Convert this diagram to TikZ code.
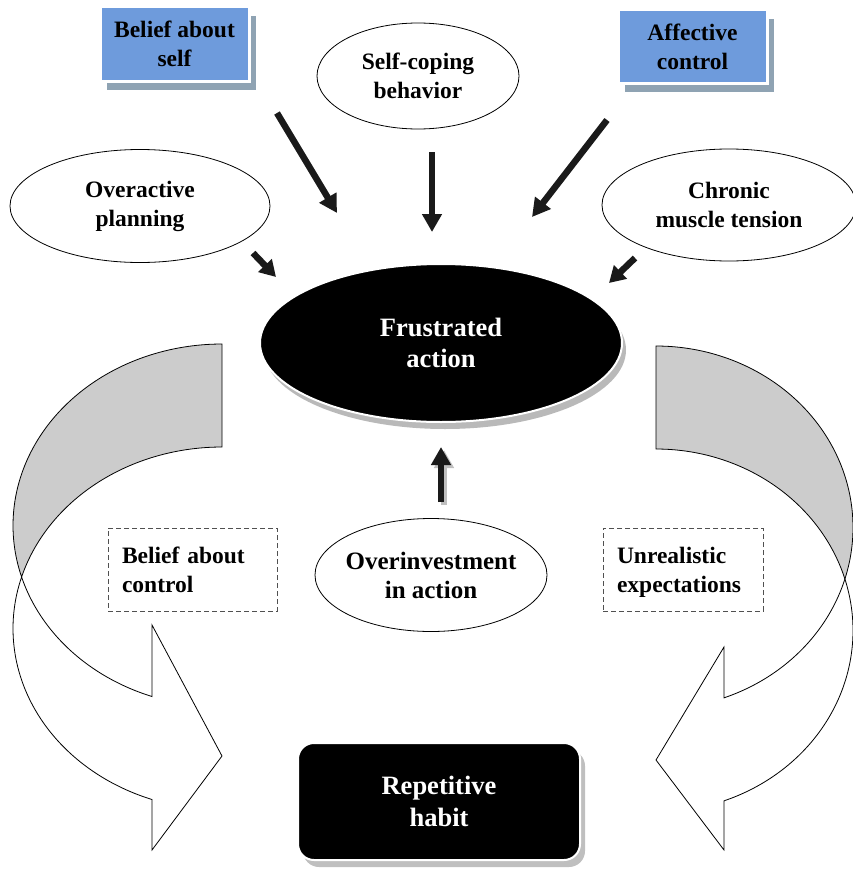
\documentclass[tikz,border=0pt]{standalone}
\usepackage{fontspec}
\setmainfont{Liberation Serif}
\usetikzlibrary{shapes.geometric,shadows,arrows.meta}
\definecolor{boxblue}{RGB}{110,155,220}
\definecolor{boxshadow}{RGB}{143,163,179}
\definecolor{bandgray}{RGB}{204,204,204}
\definecolor{arrowblack}{RGB}{26,26,26}
\definecolor{dashgray}{RGB}{80,80,80}
\begin{document}
\begin{tikzpicture}[x=1pt,y=-1pt,
  txt/.style={font=\fontsize{23.5}{29}\selectfont\bfseries, align=center},
  bigtxt/.style={font=\fontsize{26.5}{31.5}\selectfont\bfseries, align=center, text=white},
  oval/.style={ellipse, draw=black, line width=0.8pt, fill=white, inner sep=0pt, txt},
  bluebox/.style={rectangle, fill=boxblue, draw=white, line width=3pt, inner sep=0pt, txt,
    drop shadow={shadow xshift=7pt, shadow yshift=-9pt, fill=boxshadow, opacity=1}},
  dashbox/.style={rectangle, draw=dashgray, line width=0.9pt, dash pattern=on 5pt off 3pt,
    inner ysep=0pt, inner xsep=14pt, txt, align=left},
  thickarrow/.style={draw=arrowblack, line width=6.5pt, -{Triangle[length=18pt,width=19pt]}},
  smallarrow/.style={draw=arrowblack, line width=6.5pt, -{Triangle[length=16pt,width=18pt]}},
  band/.style={draw=black, line width=0.8pt}
]
\useasboundingbox (0,0) rectangle (853,883);

% left curved arrow
\filldraw[band, fill=bandgray]
  plot[domain=270:163.52,samples=80] ({222+209*cos(\x)},{525.5+181.5*sin(\x)})
  -- plot[domain=196.48:270,samples=60] ({222+209*cos(\x)},{628.5+181.5*sin(\x)}) -- cycle;
\filldraw[band, fill=white]
  plot[domain=163.52:109.57,samples=60] ({222+209*cos(\x)},{525.5+181.5*sin(\x)})
  -- (152,625) -- (222,756) -- (152,850)
  -- plot[domain=109.57:196.48,samples=80] ({222+209*cos(\x)},{628.5+181.5*sin(\x)}) -- cycle;

% right curved arrow
\filldraw[band, fill=bandgray]
  plot[domain=270:376.48,samples=80] ({656+197*cos(\x)},{527.5+181.5*sin(\x)})
  -- plot[domain=343.52:270,samples=60] ({656+197*cos(\x)},{630.5+181.5*sin(\x)}) -- cycle;
\filldraw[band, fill=white]
  plot[domain=16.48:69.81,samples=60] ({656+197*cos(\x)},{527.5+181.5*sin(\x)})
  -- (724,647) -- (656,760) -- (724,850)
  -- plot[domain=69.81:-16.48,samples=80] ({656+197*cos(\x)},{630.5+181.5*sin(\x)}) -- cycle;

% nodes
\node[bluebox, minimum width=149pt, minimum height=74pt] (bself) at (174.5,44) {Belief about\\self};
\node[bluebox, minimum width=149pt, minimum height=73pt] (affect) at (692.5,46.5) {Affective\\control};
\node[oval, minimum width=202pt, minimum height=106pt] (selfcope) at (418,76) {Self-coping\\behavior};
\node[oval, minimum width=260pt, minimum height=113pt] (overplan) at (140,206) {Overactive\\planning};
\node[oval, minimum width=254pt, minimum height=112pt] (chronic) at (729,205) {Chronic\\muscle tension};
\node[ellipse, fill=black, draw=white, line width=2pt, minimum width=362pt, minimum height=158pt,
  inner sep=0pt, bigtxt, drop shadow={shadow xshift=4pt, shadow yshift=-7pt, fill=gray!55, opacity=1}]
  (frus) at (441,343) {Frustrated\\action};
\node[oval, minimum width=232pt, minimum height=113pt, inner xsep=-12pt,
  font=\fontsize{25}{29}\selectfont\bfseries] (overinv) at (431,575) {Overinvestment\\in action};
\node[dashbox, text width=141pt, minimum height=83pt] (bctrl) at (192.5,569.5) {Belief about\\control};
\node[dashbox, text width=132pt, minimum height=83pt] (unreal) at (683,569.5) {Unrealistic\\\smash{expectations}};
\node[rectangle, rounded corners=16pt, fill=black, draw=white, line width=2pt, minimum width=282pt,
  minimum height=117pt, inner sep=0pt, bigtxt,
  drop shadow={shadow xshift=5pt, shadow yshift=-7pt, fill=gray!50, opacity=1}]
  (habit) at (439,801.5) {Repetitive\\habit};

% arrow end points
\coordinate (a1s) at (277,113); \coordinate (a1e) at (337,213);
\coordinate (a2s) at (432,152); \coordinate (a2e) at (432,232);
\coordinate (a3s) at (607,120); \coordinate (a3e) at (532,217);
\coordinate (a4s) at (253,253); \coordinate (a4e) at (276,277);
\coordinate (a5s) at (635,258); \coordinate (a5e) at (609,283);
\coordinate (a6s) at (441,502); \coordinate (a6e) at (441,447);

\draw[thickarrow] (a1s) -- (a1e);
\draw[thickarrow] (a2s) -- (a2e);
\draw[thickarrow] (a3s) -- (a3e);
\draw[smallarrow] (a4s) -- (a4e);
\draw[smallarrow] (a5s) -- (a5e);
\draw[thickarrow, draw=gray!50] ([shift={(3pt,-3pt)}]a6s) -- ([shift={(3pt,-3pt)}]a6e);
\draw[thickarrow] (a6s) -- (a6e);
\end{tikzpicture}
\end{document}
